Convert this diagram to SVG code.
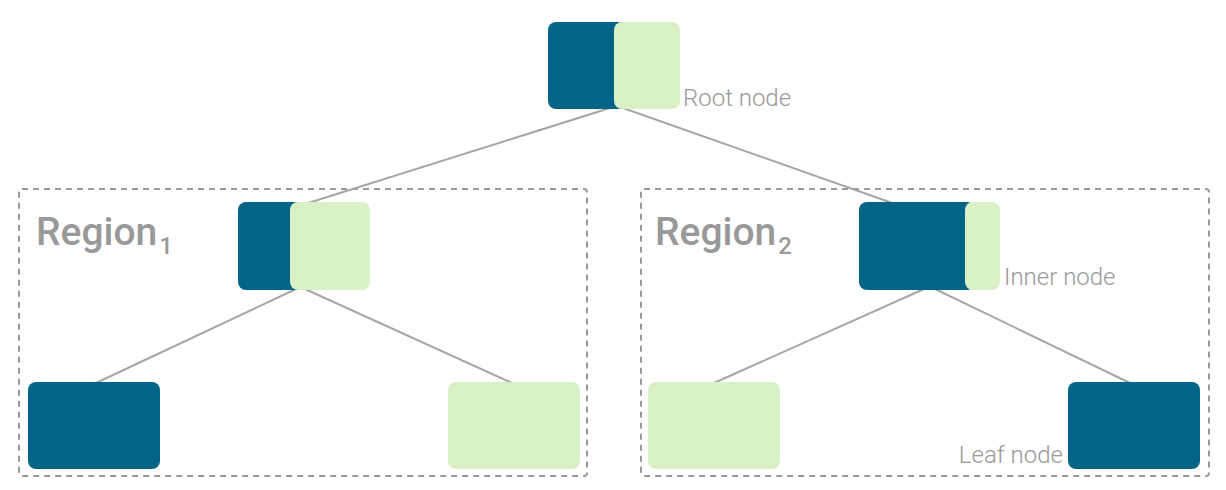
<svg xmlns="http://www.w3.org/2000/svg" width="1226" height="490" viewBox="0 0 1226 490">
<style>
.dark{fill:#046487}
.light{fill:#daf1c6}
.edge{stroke:#a6a6a6;stroke-width:2;fill:none}
.region{fill:none;stroke:#999;stroke-width:2;stroke-dasharray:6 5}
.lbl{font-family:Roboto,"Liberation Sans",sans-serif;fill:#999;font-size:24px;font-weight:300}
.rg{font-family:Roboto,"Liberation Sans",sans-serif;fill:#999;font-weight:500;font-size:39px}
</style>
<rect width="1226" height="490" fill="#fff"/>
<g id="region1"><rect class="region" x="19" y="189" width="568" height="287" rx="3"/><text class="rg" x="36" y="245">Region<tspan font-size="24" dx="2" dy="9">1</tspan></text></g>
<g id="region2"><rect class="region" x="641" y="189" width="568" height="287" rx="3"/><text class="rg" x="655" y="245">Region<tspan font-size="24" dx="2" dy="9">2</tspan></text></g>
<g id="connectors">
<line class="edge" x1="610" y1="108" x2="305" y2="204"/>
<line class="edge" x1="623" y1="108" x2="895" y2="204"/>
<line class="edge" x1="296" y1="289" x2="96" y2="383"/>
<line class="edge" x1="305" y1="289" x2="512" y2="383"/>
<line class="edge" x1="924" y1="289" x2="714" y2="383"/>
<line class="edge" x1="935" y1="289" x2="1130" y2="383"/>
</g>
<g id="root"><rect class="dark" x="548" y="22" width="80" height="87" rx="8"/><rect class="light" x="614" y="22" width="66" height="87" rx="8"/><text class="lbl" x="683" y="106">Root node</text></g>
<g id="inner1"><rect class="dark" x="238" y="202" width="70" height="88" rx="8"/><rect class="light" x="290" y="202" width="80" height="88" rx="8"/></g>
<g id="inner2"><rect class="dark" x="859" y="202" width="116" height="88" rx="8"/><rect class="light" x="965" y="202" width="35" height="88" rx="8"/><text class="lbl" x="1004" y="285">Inner node</text></g>
<g id="leaf1"><rect class="dark" x="28" y="382" width="132" height="87" rx="8"/></g>
<g id="leaf2"><rect class="light" x="448" y="382" width="132" height="87" rx="8"/></g>
<g id="leaf3"><rect class="light" x="648" y="382" width="132" height="87" rx="8"/></g>
<g id="leaf4"><rect class="dark" x="1068" y="382" width="132" height="87" rx="8"/><text class="lbl" x="1063" y="463" text-anchor="end">Leaf node</text></g>
</svg>
